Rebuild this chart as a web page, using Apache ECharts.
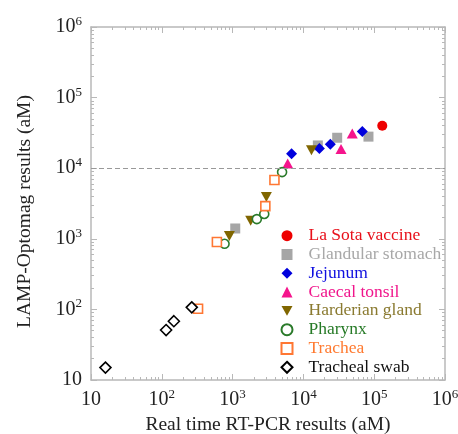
<!DOCTYPE html>
<html>
<head>
<meta charset="utf-8">
<script src="https://cdn.jsdelivr.net/npm/echarts@6/dist/echarts.min.js"></script>
<style>
  html, body { margin: 0; padding: 0; background: #fff; }
  #chart { width: 458px; height: 434px; }
</style>
</head>
<body>
<div id="chart"></div>
<script>
  // data, [RT-PCR, LAMP-Optomag] in aM
  var laSota = [[130000, 40000]];
  var glandular = [[1090, 1400], [16000, 21000], [30000, 27000], [83000, 28000]];
  var jejunum = [[6800, 16000], [16800, 19000], [24000, 21800], [68000, 33000]];
  var caecal = [[6000, 11700], [34000, 18700], [49000, 31000]];
  var harderian = [[900, 1100], [1800, 1800], [3000, 3900], [13000, 18000]];
  var pharynx = [[770, 850], [2200, 1900], [2800, 2250], [5000, 8800]];
  var trachea = [[325, 102], [600, 900], [2900, 2900], [3900, 6800]];
  var swab = [[16, 15], [115, 51], [148, 68], [265, 107]];

  var names = ['La Sota vaccine', 'Glandular stomach', 'Jejunum', 'Caecal tonsil',
    'Harderian gland', 'Pharynx', 'Trachea', 'Tracheal swab'];
  var textColors = ['#e8101a', '#a8a8a8', '#1010e0', '#f0168c', '#8a7a30', '#267a26', '#ff7a30', '#111'];

  var cutoff = 10000;
  var decadeExp = [1, 2, 3, 4, 5, 6];
  var minorMult = [2, 3, 4, 5, 6, 7, 8, 9];

  var font = 'Liberation Serif';
  var axisColor = '#b8b8b8';

  // minor tick places in log10 space
  var minors = [];
  for (var d = 0; d < decadeExp.length - 1; d++) {
    minorMult.forEach(function (k) { minors.push(decadeExp[d] + Math.log10(k)); });
  }

  function fmtTick(v) {
    var e = Math.round(Math.log10(v));
    if (e === 1) return '{b|10}';
    return '{b|10}{s|' + e + '}';
  }
  var rich = {
    b: { fontFamily: font, fontSize: 20, lineHeight: 24, color: '#222' },
    s: { fontFamily: font, fontSize: 13, lineHeight: 13, color: '#222', verticalAlign: 'top' }
  };

  function majorAxis(pos, labels) {
    return {
      type: 'log', logBase: 10, min: 10, max: 1000000, splitNumber: 5,
      position: pos, gridIndex: 0,
      axisLine: { show: true, onZero: false, lineStyle: { color: axisColor, width: 1.5 } },
      axisTick: { show: true, inside: true, length: 6, lineStyle: { color: axisColor, width: 1 } },
      minorTick: { show: false },
      splitLine: { show: false },
      axisLabel: labels ? { show: true, formatter: fmtTick, rich: rich, margin: labels } : { show: false }
    };
  }
  // minor ticks (2..9 of each decade) on a log10-space value axis
  function minorAxis(pos) {
    return {
      type: 'value', min: decadeExp[0], max: decadeExp[decadeExp.length - 1],
      position: pos, gridIndex: 0,
      axisLine: { show: false, onZero: false },
      axisTick: { show: true, inside: true, length: 3, customValues: minors, lineStyle: { color: axisColor, width: 1 } },
      splitLine: { show: false },
      axisLabel: { show: false }
    };
  }

  function filled(name, data, symbol, size, color) {
    return {
      name: name, type: 'scatter', data: data, symbol: symbol, symbolSize: size,
      itemStyle: { color: color, opacity: 1 }
    };
  }
  function open(name, data, symbol, size, color) {
    return {
      name: name, type: 'scatter', data: data, symbol: symbol, symbolSize: size,
      itemStyle: { color: '#fff', borderColor: color, borderWidth: 1.6, opacity: 1 }
    };
  }

  var downTri = 'path://M0,0L10,0L5,9Z';

  var series = [
    filled(names[0], laSota, 'circle', 10, '#ee0000'),
    filled(names[1], glandular, 'rect', 10, '#a6a6a6'),
    filled(names[2], jejunum, 'diamond', 11, '#0000dd'),
    filled(names[3], caecal, 'triangle', [11, 10], '#f5148c'),
    filled(names[4], harderian, downTri, [11, 10], '#806600'),
    open(names[5], pharynx, 'circle', 9, '#2a7a2a'),
    open(names[6], trachea, 'rect', 9, '#ff7733'),
    open(names[7], swab, 'diamond', 11, '#000000')
  ];
  series[0].markLine = {
    silent: true, symbol: ['none', 'none'], label: { show: false },
    lineStyle: { color: '#999', type: [5, 3], width: 1 },
    data: [{ yAxis: cutoff }]
  };

  var chart = echarts.init(document.getElementById('chart'));
  var option = {
    animation: false,
    backgroundColor: '#fff',
    grid: { left: 91, right: 13, top: 27, bottom: 54, outerBoundsMode: 'none' },
    xAxis: [
      Object.assign(majorAxis('bottom', 8), {
        name: 'Real time RT-PCR results (aM)', nameLocation: 'middle', nameGap: 30,
        nameTextStyle: { fontFamily: font, fontSize: 19.5, color: '#222' }
      }),
      majorAxis('top', 0),
      minorAxis('bottom'),
      minorAxis('top')
    ],
    yAxis: [
      majorAxis('left', 9),
      majorAxis('right', 0),
      minorAxis('left'),
      minorAxis('right')
    ],
    legend: {
      orient: 'vertical', left: 280.5, top: 226.3, padding: 0, itemGap: 0,
      itemWidth: 11, itemHeight: 11, selectedMode: false,
      textStyle: { fontFamily: font, fontSize: 17.5, lineHeight: 18.8, padding: [0, 0, 0, 11] },
      data: names.map(function (n, i) { return { name: n, textStyle: { color: textColors[i] } }; })
    },
    graphic: [{
      type: 'text', x: 25, y: 211.5, rotation: Math.PI / 2,
      style: {
        text: 'LAMP-Optomag results (aM)', fontFamily: font, fontSize: 19.5, fill: '#222',
        textAlign: 'center', textVerticalAlign: 'middle'
      }
    }],
    series: series
  };
  chart.setOption(option);
</script>
</body>
</html>
